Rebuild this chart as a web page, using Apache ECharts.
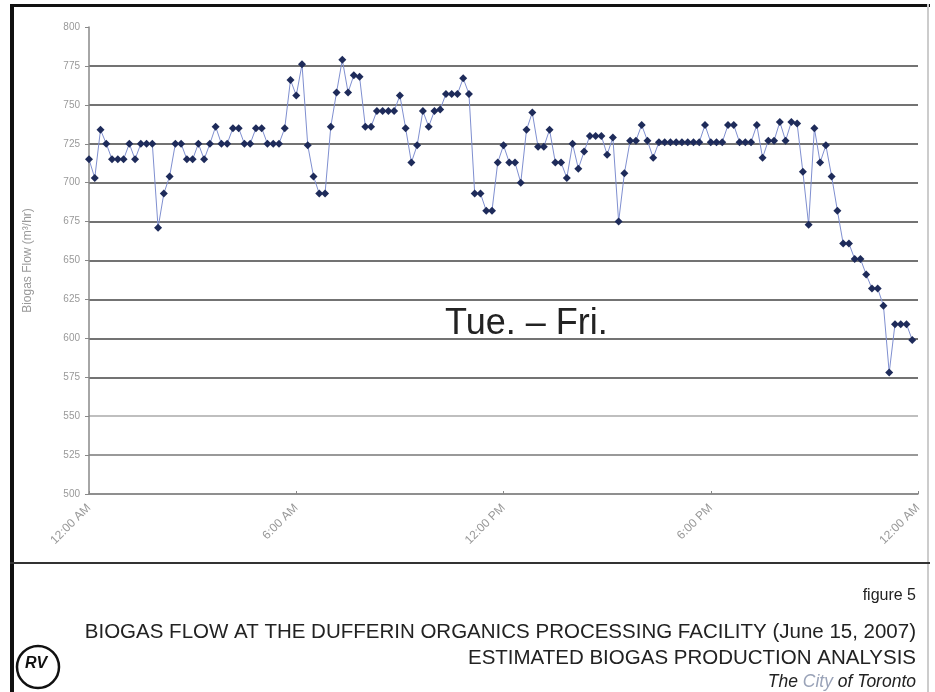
<!DOCTYPE html>
<html>
<head>
    <meta charset='utf-8'>
    <title>Biogas Flow</title>
    <script src='https://cdn.jsdelivr.net/npm/echarts@6/dist/echarts.min.js'></script>
    <style>
        html, body { margin: 0; padding: 0; background: #fff; }
        #main { width: 935px; height: 692px; }
    </style>
</head>
<body>
    <div id='main'></div>
    <script type='text/javascript'>
        // flow readings every 10 minutes, 12:00 AM to 11:50 PM
        var flow = [
            715, 703, 734, 725, 715, 715, 715, 725, 715, 725,
            725, 725, 671, 693, 704, 725, 725, 715, 715, 725,
            715, 725, 736, 725, 725, 735, 735, 725, 725, 735,
            735, 725, 725, 725, 735, 766, 756, 776, 724, 704,
            693, 693, 736, 758, 779, 758, 769, 768, 736, 736,
            746, 746, 746, 746, 756, 735, 713, 724, 746, 736,
            746, 747, 757, 757, 757, 767, 757, 693, 693, 682,
            682, 713, 724, 713, 713, 700, 734, 745, 723, 723,
            734, 713, 713, 703, 725, 709, 720, 730, 730, 730,
            718, 729, 675, 706, 727, 727, 737, 727, 716, 726,
            726, 726, 726, 726, 726, 726, 726, 737, 726, 726,
            726, 737, 737, 726, 726, 726, 737, 716, 727, 727,
            739, 727, 739, 738, 707, 673, 735, 713, 724, 704,
            682, 661, 661, 651, 651, 641, 632, 632, 621, 578,
            609, 609, 609, 599
        ];
        var xTickLabels = ['12:00 AM', '6:00 AM', '12:00 PM', '6:00 PM', '12:00 AM'];
        var yTicks = [500, 525, 550, 575, 600, 625, 650, 675, 700, 725, 750, 775, 800];

        // one category per 10 minutes, plus the closing midnight
        var times = [];
        for (var m = 0; m <= 1440; m += 10) {
            var h = Math.floor(m / 60) % 24, mm = m % 60;
            times.push((h < 10 ? '0' : '') + h + ':' + (mm < 10 ? '0' : '') + mm);
        }

        var myChart = echarts.init(document.getElementById('main'));

        var option = {
            backgroundColor: '#fff',
            animation: false,
            grid: { left: 89, right: 17, top: 27, bottom: 198 },
            xAxis: {
                type: 'category',
                data: times,
                boundaryGap: false,
                axisLine: { lineStyle: { color: '#888', width: 1.5 } },
                axisTick: { interval: 35, length: 3, inside: true, lineStyle: { color: '#888' } },
                axisLabel: {
                    interval: 35,
                    rotate: 45,
                    color: '#999',
                    fontSize: 12,
                    fontFamily: 'Liberation Sans',
                    margin: 12,
                    formatter: function (v, i) { return xTickLabels[i / 36]; }
                },
                splitLine: { show: false }
            },
            yAxis: {
                type: 'value',
                min: yTicks[0],
                max: yTicks[yTicks.length - 1],
                interval: 25,
                name: 'Biogas Flow (m\u00b3/hr)',
                nameLocation: 'middle',
                nameGap: 55,
                nameTextStyle: { color: '#999', fontSize: 12, fontFamily: 'Liberation Sans' },
                axisLine: { show: true, lineStyle: { color: '#888', width: 1.5 } },
                axisTick: { show: true, length: 4, lineStyle: { color: '#888' } },
                axisLabel: { color: '#999', fontSize: 10, fontFamily: 'Liberation Sans', margin: 9 },
                splitLine: {
                    lineStyle: {
                        width: 1.5,
                        color: ['#888', '#777', '#aaa', '#444', '#444', '#444', '#444',
                                '#444', '#444', '#444', '#444', '#444', 'rgba(0,0,0,0)']
                    }
                }
            },
            series: [{
                name: 'Biogas Flow',
                type: 'line',
                data: flow,
                symbol: 'diamond',
                symbolSize: 8,
                showAllSymbol: true,
                itemStyle: { color: '#1e2b5a' },
                lineStyle: { color: '#7f8fd0', width: 1 }
            }],
            graphic: [
                { type: 'rect', shape: { x: 10, y: 4, width: 920, height: 3 }, style: { fill: '#111' } },
                { type: 'rect', shape: { x: 10, y: 4, width: 4, height: 688 }, style: { fill: '#111' } },
                { type: 'rect', shape: { x: 927, y: 4, width: 2, height: 688 }, style: { fill: '#ccc' } },
                { type: 'rect', shape: { x: 10, y: 562, width: 920, height: 2 }, style: { fill: '#333' } },
                {
                    type: 'text', left: 445, top: 306,
                    style: { text: 'Tue. \u2013 Fri.', fontSize: 36, fontFamily: 'Liberation Sans', fill: '#222' }
                },
                {
                    type: 'text', right: 19, top: 588,
                    style: { text: 'figure 5', fontSize: 16, fontFamily: 'Liberation Sans', fill: '#222' }
                },
                {
                    type: 'text', right: 19, top: 622,
                    style: { text: 'BIOGAS FLOW AT THE DUFFERIN ORGANICS PROCESSING FACILITY (June 15, 2007)', fontSize: 20.5, fontFamily: 'Liberation Sans', fill: '#222' }
                },
                {
                    type: 'text', right: 19, top: 648,
                    style: { text: 'ESTIMATED BIOGAS PRODUCTION ANALYSIS', fontSize: 20.5, fontFamily: 'Liberation Sans', fill: '#222' }
                },
                {
                    type: 'text', right: 19, top: 673,
                    style: {
                        text: '{a|The }{b|City}{a| of Toronto}',
                        rich: {
                            a: { fontSize: 17.5, fontStyle: 'italic', fontFamily: 'Liberation Sans', fill: '#222' },
                            b: { fontSize: 17.5, fontStyle: 'italic', fontFamily: 'Liberation Sans', fill: '#9aa3b8' }
                        }
                    }
                },
                {
                    type: 'circle', shape: { cx: 38, cy: 667, r: 21 },
                    style: { fill: '#fff', stroke: '#111', lineWidth: 2.5 }
                },
                {
                    type: 'text', left: 25, top: 656,
                    style: { text: 'RV', fontSize: 16, fontWeight: 'bold', fontStyle: 'italic', fontFamily: 'Liberation Sans', fill: '#111' }
                }
            ]
        };

        myChart.setOption(option);
    </script>
</body>
</html>
